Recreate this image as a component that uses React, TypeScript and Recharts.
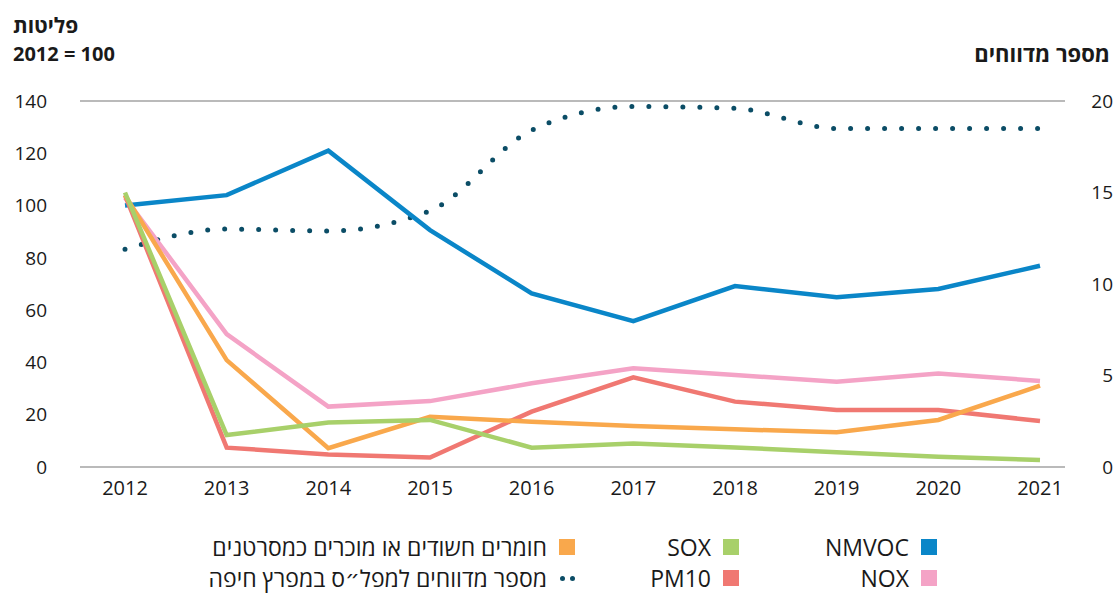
import React from "react";
import {
  LineChart,
  Line,
  XAxis,
  YAxis,
  CartesianGrid,
} from "recharts";

const years = ["2012", "2013", "2014", "2015", "2016", "2017", "2018", "2019", "2020", "2021"];
const nmvoc = [100, 104, 121, 90.6, 66.4, 55.8, 69.2, 64.9, 68.1, 77];
const sox = [105, 12.2, 17, 18, 7.4, 9, 7.5, 5.6, 3.9, 2.7];
const nox = [103, 50.8, 23.1, 25.2, 32, 37.8, 35.2, 32.6, 35.8, 32.9];
const pm10 = [104, 7.4, 4.8, 3.6, 21.2, 34.3, 25, 21.8, 21.8, 17.6];
const carcinogens = [104, 40.9, 7.2, 19.2, 17.3, 15.7, 14.4, 13.3, 18, 31.1];
const reports = [11.9, 13, 12.9, 14, 18.4, 19.7, 19.6, 18.5, 18.5, 18.5];

const leftTicks = [0, 20, 40, 60, 80, 100, 120, 140];
const rightTicks = [0, 5, 10, 15, 20];
const gridTicks = [0, 28, 56, 84, 112, 140];

const FONT = '"Open Sans", "DejaVu Sans", sans-serif';

const chartData = years.map((year, i) => ({
  year,
  nmvoc: nmvoc[i],
  sox: sox[i],
  nox: nox[i],
  pm10: pm10[i],
  carcinogens: carcinogens[i],
  reports: reports[i],
}));

// right axis labels are right-aligned against the page edge
const renderRightTick = (props: any) => {
  const { x, y, payload } = props;
  return (
    <g transform={`translate(${x},${y})`}>
      <text x={0} y={0} dx={-12} dy="0.355em" style={{ textAnchor: "end" }} fontSize={19} fill="#1a1a1a" fontFamily={FONT}>
        {payload.value}
      </text>
    </g>
  );
};

type LegendItem = { label: string; color: string; dots?: boolean };

function LegendEntry({ item, right, top }: { item: LegendItem; right: number; top: number }) {
  return (
    <div
      style={{
        position: "absolute",
        right,
        top,
        display: "flex",
        flexDirection: "row-reverse",
        alignItems: "center",
        gap: 12,
        fontSize: 23,
        color: "#1a1a1a",
        whiteSpace: "nowrap",
        lineHeight: "24px",
      }}
    >
      {item.dots ? (
        <div style={{ display: "flex", gap: 5, width: 16, justifyContent: "flex-end" }}>
          <span style={{ width: 5, height: 5, borderRadius: 3, background: item.color }} />
          <span style={{ width: 5, height: 5, borderRadius: 3, background: item.color }} />
        </div>
      ) : (
        <span style={{ width: 16, height: 16, background: item.color }} />
      )}
      <span>{item.label}</span>
    </div>
  );
}

export default function App() {
  return (
    <div
      style={{
        position: "absolute",
        left: 0,
        top: 0,
        width: 1113,
        height: 595,
        background: "#fff",
        fontFamily: FONT,
      }}
    >
      <div style={{ position: "absolute", left: 13, top: 11, fontSize: 21, fontWeight: 700, lineHeight: "28px", color: "#1a1a1a" }}>
        פליטות
      </div>
      <div style={{ position: "absolute", left: 13, top: 40, fontSize: 20, fontWeight: 700, lineHeight: "28px", color: "#1a1a1a" }}>
        2012 = 100
      </div>
      <div style={{ position: "absolute", right: 3, top: 39, fontSize: 22, fontWeight: 700, lineHeight: "28px", color: "#1a1a1a" }}>
        מספר מדווחים
      </div>

      <div style={{ position: "absolute", left: 0, top: 0 }}>
        <LineChart
          width={1113}
          height={510}
          data={chartData}
          margin={{ top: 101, right: 0, left: 0, bottom: 0 }}
        >
          <CartesianGrid yAxisId="grid" vertical={false} stroke="#a3a3a3" strokeWidth={1.5} />

          <XAxis
            dataKey="year"
            height={43}
            tickLine={false}
            axisLine={false}
            tickSize={0}
            tickMargin={14}
            padding={{ left: 45, right: 25 }}
            tick={{ fontSize: 20, fill: "#1a1a1a", fontFamily: FONT }}
            interval={0}
          />
          <YAxis
            yAxisId="left"
            orientation="left"
            width={80}
            domain={[0, 140]}
            ticks={leftTicks}
            tickLine={false}
            axisLine={false}
            tickSize={0}
            tickMargin={33}
            tick={{ fontSize: 19, fill: "#1a1a1a", fontFamily: FONT }}
          />
          <YAxis
            yAxisId="right"
            orientation="right"
            width={48}
            domain={[0, 20]}
            ticks={rightTicks}
            tickLine={false}
            axisLine={false}
            tickSize={0}
            tickMargin={0}
            tick={renderRightTick}
          />
          <YAxis yAxisId="grid" orientation="right" hide domain={[0, 140]} ticks={gridTicks} />

          <Line
            yAxisId="right"
            type="monotone"
            dataKey="reports"
            stroke="#0b4d66"
            strokeWidth={5}
            strokeDasharray="0 17"
            strokeLinecap="round"
            dot={false}
            activeDot={false}
            isAnimationActive={false}
          />
          <Line yAxisId="left" type="linear" dataKey="nmvoc" stroke="#0a86c8" strokeWidth={4.5} dot={false} activeDot={false} isAnimationActive={false} />
          <Line yAxisId="left" type="linear" dataKey="nox" stroke="#f4a3c6" strokeWidth={4.5} dot={false} activeDot={false} isAnimationActive={false} />
          <Line yAxisId="left" type="linear" dataKey="pm10" stroke="#f07872" strokeWidth={4.5} dot={false} activeDot={false} isAnimationActive={false} />
          <Line yAxisId="left" type="linear" dataKey="carcinogens" stroke="#f9a84c" strokeWidth={4.5} dot={false} activeDot={false} isAnimationActive={false} />
          <Line yAxisId="left" type="linear" dataKey="sox" stroke="#a8d06a" strokeWidth={4.5} dot={false} activeDot={false} isAnimationActive={false} />
        </LineChart>
      </div>

      <LegendEntry item={{ label: "NMVOC", color: "#0a86c8" }} right={1113 - 937} top={535} />
      <LegendEntry item={{ label: "SOX", color: "#a8d06a" }} right={1113 - 739} top={535} />
      <LegendEntry item={{ label: "חומרים חשודים או מוכרים כמסרטנים", color: "#f9a84c" }} right={1113 - 575} top={535} />
      <LegendEntry item={{ label: "NOX", color: "#f4a3c6" }} right={1113 - 937} top={566} />
      <LegendEntry item={{ label: "PM10", color: "#f07872" }} right={1113 - 739} top={566} />
      <LegendEntry item={{ label: "מספר מדווחים למפל״ס במפרץ חיפה", color: "#0b4d66", dots: true }} right={1113 - 575} top={566} />
    </div>
  );
}
